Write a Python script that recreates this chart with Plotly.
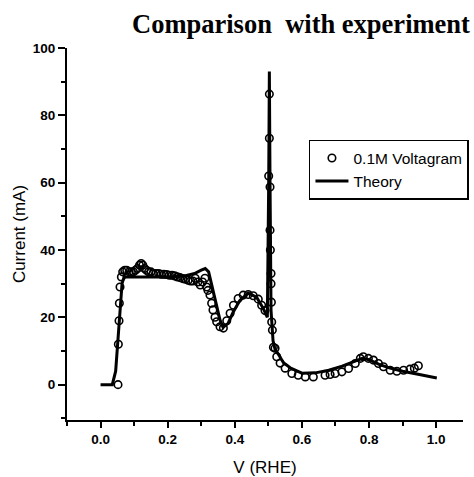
import plotly.graph_objects as go

# Experimental voltammogram (0.1M)
exp_v = [0.052, 0.053, 0.055, 0.056, 0.058, 0.062, 0.066, 0.072, 0.078, 0.085,
         0.092, 0.098, 0.104, 0.110, 0.116, 0.121, 0.126, 0.131, 0.137, 0.143,
         0.150, 0.157, 0.165, 0.173, 0.181, 0.189, 0.197, 0.205, 0.213, 0.221,
         0.229, 0.237, 0.245, 0.253, 0.261, 0.268, 0.275, 0.282, 0.290, 0.297,
         0.304, 0.311, 0.316, 0.320, 0.326, 0.331, 0.335, 0.341, 0.346, 0.356,
         0.366, 0.376, 0.386, 0.396, 0.410, 0.425, 0.440, 0.455, 0.470, 0.480,
         0.490, 0.503, 0.503, 0.501, 0.505, 0.505, 0.506, 0.508, 0.508, 0.509,
         0.510, 0.512, 0.515, 0.520, 0.525, 0.535, 0.550, 0.570, 0.589, 0.610,
         0.634, 0.669, 0.684, 0.699, 0.719, 0.739, 0.759, 0.774, 0.783, 0.798,
         0.813, 0.828, 0.843, 0.863, 0.883, 0.903, 0.922, 0.935, 0.947]
exp_i = [0.0, 12.0, 19.0, 24.2, 29.0, 32.0, 33.5, 34.0, 34.0, 33.5,
         33.5, 33.5, 34.0, 34.5, 35.5, 36.0, 35.5, 34.5, 34.0, 33.5,
         33.5, 33.0, 33.0, 33.0, 32.8, 32.8, 32.7, 32.5, 32.5, 32.3,
         32.0, 31.8, 31.5, 31.3, 31.0, 30.8, 30.8, 31.6, 30.5, 29.6,
         30.5, 31.6, 29.0, 28.0, 26.6, 24.2, 22.2, 20.0, 18.7, 17.2,
         16.8, 19.0, 21.2, 23.6, 25.6, 26.6, 26.8, 26.4, 25.4, 23.6,
         22.0, 86.3, 73.2, 62.0, 58.7, 45.9, 40.0, 33.0, 30.0, 24.5,
         18.6, 16.2, 11.1, 10.8, 8.3, 6.4, 4.9, 3.3, 2.8, 2.3,
         2.3, 2.8, 3.0, 3.3, 3.8, 4.8, 6.3, 7.8, 8.3, 7.8,
         7.3, 6.3, 5.3, 4.3, 4.0, 4.3, 4.6, 4.9, 5.6]

# Theory curve
th_v = [0.0, 0.035, 0.045, 0.052, 0.058, 0.064, 0.070, 0.100, 0.150, 0.200,
        0.250, 0.280, 0.300, 0.312, 0.322, 0.332, 0.341, 0.349, 0.356, 0.365,
        0.380, 0.395, 0.415, 0.440, 0.465, 0.485, 0.497, 0.501, 0.503, 0.505,
        0.508, 0.514, 0.520, 0.530, 0.545, 0.565, 0.600, 0.640, 0.680, 0.720,
        0.760, 0.780, 0.800, 0.830, 0.860, 0.900, 0.950, 1.002]
th_i = [0.0, 0.0, 4.0, 14.0, 24.0, 30.0, 32.0, 32.0, 32.0, 32.0,
        32.3, 33.0, 34.0, 34.5, 33.5, 29.0, 25.7, 21.5, 19.2, 17.0,
        18.2, 21.5, 25.0, 27.2, 26.0, 22.6, 20.0, 60.0, 93.0, 60.0,
        22.0, 13.0, 10.5, 9.0, 6.5, 5.0, 3.4, 3.5, 4.3, 5.5,
        7.0, 7.8, 7.4, 6.0, 5.0, 4.0, 3.0, 2.0]

x_ticks = [0.0, 0.2, 0.4, 0.6, 0.8, 1.0]
x_tick_labels = ["0.0", "0.2", "0.4", "0.6", "0.8", "1.0"]
y_ticks = [0, 20, 40, 60, 80, 100]
y_tick_labels = ["0", "20", "40", "60", "80", "100"]

fig = go.Figure()
fig.add_trace(go.Scatter(
    x=exp_v, y=exp_i, mode="markers", name="0.1M Voltagram",
    marker=dict(symbol="circle-open", size=7.5, color="black",
                line=dict(width=1.6, color="black")),
))
fig.add_trace(go.Scatter(
    x=th_v, y=th_i, mode="lines", name="Theory",
    line=dict(color="black", width=3),
))

tickfont = dict(family="Liberation Sans, Arial, sans-serif", size=13.5,
                color="black", weight="bold")

fig.update_layout(
    width=474, height=477,
    paper_bgcolor="white", plot_bgcolor="white",
    margin=dict(l=67, r=11, t=48, b=57, autoexpand=False),
    showlegend=True,
    legend=dict(
        x=0.611, y=0.753, xanchor="left", yanchor="top",
        bgcolor="white", bordercolor="black", borderwidth=1.5,
        font=dict(family="Liberation Sans, Arial, sans-serif", size=15.5,
                  color="black"),
        itemwidth=33, tracegroupgap=0,
    ),
    title=dict(
        text="<b>Comparison  with experiment</b>",
        xref="container", yref="container",
        x=0.635, y=0.95, xanchor="center", yanchor="middle",
        font=dict(family="Liberation Serif, Times New Roman, serif",
                  size=26.5, color="black"),
    ),
    xaxis=dict(
        range=[-0.1, 1.08],
        tickvals=x_ticks, ticktext=x_tick_labels,
        ticks="outside", ticklen=6, tickwidth=1.5, tickcolor="black",
        minor=dict(dtick=0.1, tick0=0, ticks="outside", ticklen=4,
                   tickwidth=1.5, tickcolor="black"),
        showline=True, linecolor="black", linewidth=2,
        showgrid=False, zeroline=False,
        tickfont=tickfont,
        title=dict(text="V (RHE)", standoff=15,
                   font=dict(family="Liberation Sans, Arial, sans-serif",
                             size=17, color="black")),
    ),
    yaxis=dict(
        range=[-10.5, 100],
        tickvals=y_ticks, ticktext=y_tick_labels,
        ticks="outside", ticklen=7, tickwidth=1.5, tickcolor="black",
        minor=dict(dtick=10, tick0=0, ticks="outside", ticklen=4,
                   tickwidth=1.5, tickcolor="black"),
        showline=True, linecolor="black", linewidth=2,
        showgrid=False, zeroline=False,
        tickfont=tickfont,
        title=dict(text="Current (mA)", standoff=3,
                   font=dict(family="Liberation Sans, Arial, sans-serif",
                             size=17, color="black")),
    ),
)

fig.write_html("out.html",
               config={"displayModeBar": False},
               post_script="document.body.style.margin='0';document.body.style.overflow='hidden';")
